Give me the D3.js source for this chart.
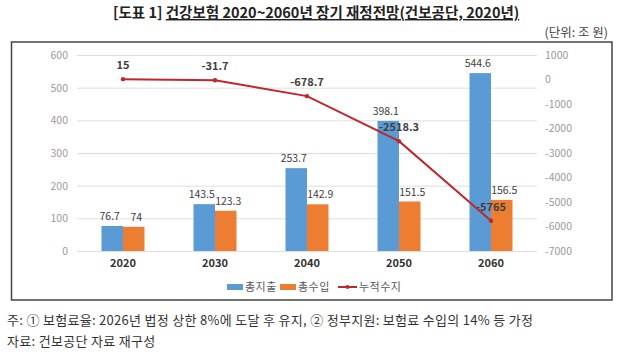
<!DOCTYPE html>
<html>
<head>
<meta charset="utf-8">
<script src="https://cdn.jsdelivr.net/npm/d3@7"></script>
<style>
  body { margin: 0; background: #fff; }
  svg text { font-family: "Noto Sans CJK KR", "Noto Sans", sans-serif; }
</style>
</head>
<body>
<div id="chart"></div>
<script>
const years = ["2020", "2030", "2040", "2050", "2060"];
const totalSpend = [76.7, 143.5, 253.7, 398.1, 544.6];
const totalIncome = [74, 123.3, 142.9, 151.5, 156.5];
const cumulative = [15, -31.7, -678.7, -2518.3, -5765];
const leftTicks = [0, 100, 200, 300, 400, 500, 600];
const rightTicks = [-7000, -6000, -5000, -4000, -3000, -2000, -1000, 0, 1000];
const seriesNames = ["총지출", "총수입", "누적수지"];

const colors = { spend: "#5b9bd5", income: "#ed7d31", line: "#c0262b" };

const W = 630, H = 353;
const plot = { left: 77, right: 537, top: 55, bottom: 251 };

const svg = d3.select("#chart").append("svg")
    .attr("width", W)
    .attr("height", H);

// Title and unit
const title = svg.append("text")
    .attr("x", 113)
    .attr("y", 18)
    .attr("font-size", 14.5)
    .attr("font-weight", "bold")
    .attr("fill", "#222");
title.append("tspan").text("[도표 1] ");
title.append("tspan")
    .attr("text-decoration", "underline")
    .text("건강보험 2020~2060년 장기 재정전망(건보공단, 2020년)");

svg.append("text")
    .attr("x", 608)
    .attr("y", 37)
    .attr("text-anchor", "end")
    .attr("font-size", 12.5)
    .attr("fill", "#444")
    .text("(단위: 조 원)");

// Chart frame
svg.append("rect")
    .attr("x", 11.5)
    .attr("y", 42)
    .attr("width", 600.5)
    .attr("height", 258)
    .attr("fill", "none")
    .attr("stroke", "#444")
    .attr("stroke-width", 1.5);

// Set the scales
const x = d3.scaleBand()
    .domain(years)
    .range([plot.left, plot.right])
    .padding(0);

const yLeft = d3.scaleLinear()
    .domain([0, 600])
    .range([plot.bottom, plot.top]);

const yRight = d3.scaleLinear()
    .domain([-7000, 1000])
    .range([plot.bottom, plot.top]);

const barW = 21.5;

// Gridlines
svg.append("g")
    .selectAll("line")
    .data(leftTicks)
    .enter().append("line")
    .attr("x1", plot.left)
    .attr("x2", plot.right)
    .attr("y1", d => yLeft(d) + 0.5)
    .attr("y2", d => yLeft(d) + 0.5)
    .attr("stroke", "#dedede")
    .attr("stroke-width", 1);

// Left axis
const leftAxis = svg.append("g")
    .attr("transform", `translate(${plot.left - 9}, 0)`)
    .call(d3.axisLeft(yLeft).tickValues(leftTicks).tickSize(0).tickPadding(0));
leftAxis.select(".domain").remove();
leftAxis.selectAll("text")
    .attr("font-size", 10.5)
    .attr("fill", "#9a9a9a");

// Right axis
const rightAxis = svg.append("g")
    .attr("transform", `translate(${plot.right + 8}, 0)`)
    .call(d3.axisRight(yRight).tickValues(rightTicks).tickSize(0).tickPadding(0).tickFormat(d3.format("d")));
rightAxis.select(".domain").remove();
rightAxis.selectAll("text")
    .attr("font-size", 10.5)
    .attr("fill", "#9a9a9a")
    .text(d => d < 0 ? "-" + Math.abs(d) : d);

// Bottom axis (category labels)
const bottomAxis = svg.append("g")
    .attr("transform", `translate(0, ${plot.bottom + 8})`)
    .call(d3.axisBottom(x).tickSize(0).tickPadding(0));
bottomAxis.select(".domain").remove();
bottomAxis.selectAll("text")
    .attr("font-size", 11)
    .attr("font-weight", "bold")
    .attr("fill", "#333");

// Bars
const dataset = years.map((y, i) => ({ year: y, spend: totalSpend[i], income: totalIncome[i], cum: cumulative[i] }));
const cx = d => x(d.year) + x.bandwidth() / 2;

svg.selectAll(".bar-spend")
    .data(dataset)
    .enter().append("rect")
    .attr("class", "bar-spend")
    .attr("x", d => cx(d) - barW)
    .attr("width", barW)
    .attr("y", d => yLeft(d.spend))
    .attr("height", d => yLeft(0) - yLeft(d.spend))
    .attr("fill", colors.spend);

svg.selectAll(".bar-income")
    .data(dataset)
    .enter().append("rect")
    .attr("class", "bar-income")
    .attr("x", d => cx(d))
    .attr("width", barW)
    .attr("y", d => yLeft(d.income))
    .attr("height", d => yLeft(0) - yLeft(d.income))
    .attr("fill", colors.income);

// Bar labels
svg.selectAll(".lbl-spend")
    .data(dataset)
    .enter().append("text")
    .attr("x", d => cx(d) - barW / 2 - 2.5)
    .attr("y", d => yLeft(d.spend) - 6)
    .attr("text-anchor", "middle")
    .attr("font-size", 10.5)
    .attr("fill", "#404040")
    .text(d => d.spend);

svg.selectAll(".lbl-income")
    .data(dataset)
    .enter().append("text")
    .attr("x", d => cx(d) + barW / 2 + 2.5)
    .attr("y", d => yLeft(d.income) - 6)
    .attr("text-anchor", "middle")
    .attr("font-size", 10.5)
    .attr("fill", "#404040")
    .text(d => d.income);

// Cumulative balance line
const line = d3.line()
    .x(d => cx(d))
    .y(d => yRight(d.cum));

svg.append("path")
    .datum(dataset)
    .attr("d", line)
    .attr("fill", "none")
    .attr("stroke", colors.line)
    .attr("stroke-width", 2);

svg.selectAll(".dot")
    .data(dataset)
    .enter().append("circle")
    .attr("cx", d => cx(d))
    .attr("cy", d => yRight(d.cum))
    .attr("r", 2.2)
    .attr("fill", colors.line);

svg.selectAll(".lbl-cum")
    .data(dataset)
    .enter().append("text")
    .attr("x", d => cx(d))
    .attr("y", d => yRight(d.cum) - 10)
    .attr("text-anchor", "middle")
    .attr("font-size", 11)
    .attr("font-weight", "bold")
    .attr("fill", "#404040")
    .text(d => d.cum);

// Legend
const legend = svg.append("g").attr("transform", "translate(227, 287)");
const legendItems = [
    { name: seriesNames[0], color: colors.spend, type: "rect", x: 0 },
    { name: seriesNames[1], color: colors.income, type: "rect", x: 53 },
    { name: seriesNames[2], color: colors.line, type: "line", x: 111 }
];
legendItems.forEach(item => {
    const g = legend.append("g").attr("transform", `translate(${item.x}, 0)`);
    if (item.type === "rect") {
        g.append("rect").attr("x", 0).attr("y", -3).attr("width", 16).attr("height", 6).attr("fill", item.color);
    } else {
        g.append("line").attr("x1", 0).attr("x2", 19).attr("y1", 0).attr("y2", 0)
            .attr("stroke", item.color).attr("stroke-width", 2);
        g.append("circle").attr("cx", 9.5).attr("cy", 0).attr("r", 2).attr("fill", item.color);
    }
    g.append("text")
        .attr("x", item.type === "rect" ? 18 : 21)
        .attr("y", 4)
        .attr("font-size", 11)
        .attr("letter-spacing", 0.5)
        .attr("fill", "#595959")
        .text(item.name);
});

// Notes
svg.append("text")
    .attr("x", 7)
    .attr("y", 325)
    .attr("font-size", 13)
    .attr("letter-spacing", 0.3)
    .attr("fill", "#333")
    .text("주: ① 보험료율: 2026년 법정 상한 8%에 도달 후 유지, ② 정부지원: 보험료 수입의 14% 등 가정");

svg.append("text")
    .attr("x", 7)
    .attr("y", 346)
    .attr("font-size", 13)
    .attr("letter-spacing", 0.3)
    .attr("fill", "#333")
    .text("자료: 건보공단 자료 재구성");
</script>
</body>
</html>
